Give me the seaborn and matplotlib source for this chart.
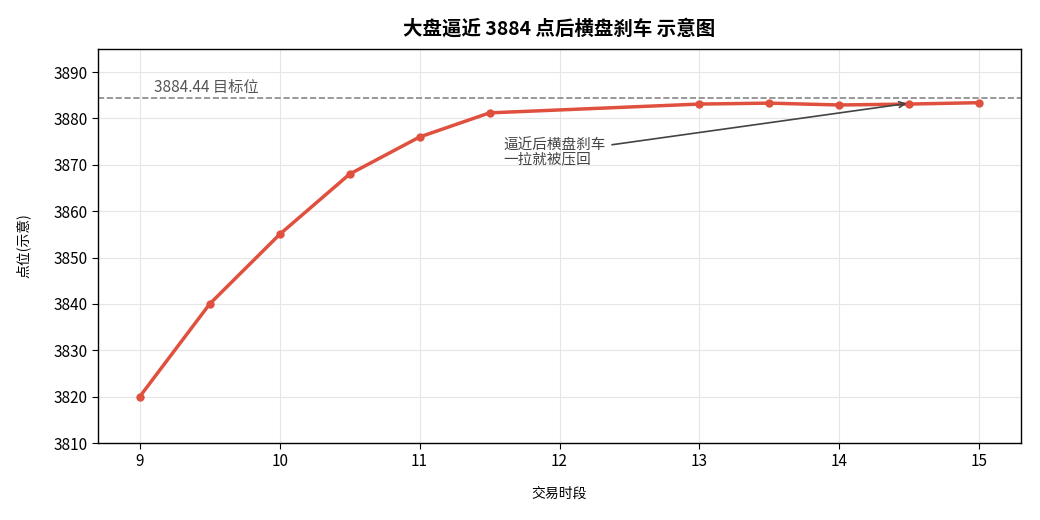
import matplotlib
matplotlib.use('Agg')
import matplotlib.pyplot as plt
import seaborn as sns
import pandas as pd

# 交易时段 / 点位
times = [9, 9.5, 10, 10.5, 11, 11.5, 13, 13.5, 14, 14.5, 15]
points = [3820, 3840, 3855, 3868, 3876, 3881.2, 3883.1, 3883.3, 3882.9, 3883.1, 3883.4]
target = 3884.44

sns.set_style('ticks')
plt.rcParams['font.family'] = ['Noto Sans CJK SC', 'DejaVu Sans']
plt.rcParams['axes.unicode_minus'] = False
plt.rcParams['text.color'] = 'black'
plt.rcParams['axes.labelcolor'] = 'black'
plt.rcParams['xtick.color'] = 'black'
plt.rcParams['ytick.color'] = 'black'

df = pd.DataFrame({'time': times, 'point': points})

fig = plt.figure(figsize=(10.4, 5.2), dpi=100)
ax = fig.add_axes([0.094, 0.148, 0.888, 0.758])

sns.lineplot(data=df, x='time', y='point', ax=ax, color='#e0503e',
             linewidth=2.5, marker='o', markersize=6, markeredgewidth=0)

ax.axhline(target, color='#888888', linestyle='--', linewidth=1.2)
ax.text(9.1, target + 1.2, f'{target} 目标位', fontsize=11, color='#555555')

ax.annotate('逼近后横盘刹车\n一拉就被压回', xy=(14.5, 3883.3), xytext=(11.6, 3872.6),
            fontsize=10.5, color='#444444', ha='left', va='center', linespacing=1.0,
            arrowprops=dict(arrowstyle='->', color='#444444', lw=1.2))

ax.set_ylim(3810, 3895)
ax.set_yticks(range(3810, 3891, 10))
ax.set_xticks(range(9, 16))
ax.grid(True, color='#e6e6e6', linewidth=0.8)
for s in ax.spines.values():
    s.set_visible(True)
    s.set_color('black')
    s.set_linewidth(1.0)
ax.tick_params(labelsize=11, direction='out', length=4)

ax.set_title('大盘逼近 3884 点后横盘刹车 示意图', fontsize=14, fontweight='bold', pad=10)
ax.set_xlabel('交易时段', fontsize=10, labelpad=12)
ax.set_ylabel('点位(示意)', fontsize=10, labelpad=16)

fig.savefig('out.png', dpi=100)
